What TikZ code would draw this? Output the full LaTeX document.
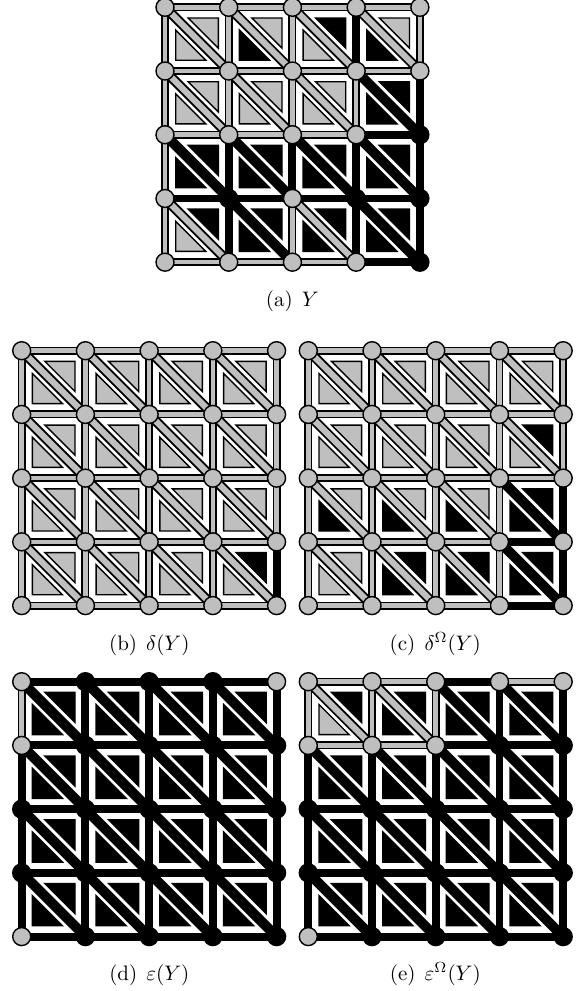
\documentclass[tikz,border=0pt]{standalone}
\usetikzlibrary{backgrounds}
\def\gridstep{63.72}
\definecolor{gridgrey}{gray}{0.75}
\tikzset{
  vertg/.style={circle,draw=black,fill=gridgrey,line width=1.4pt,inner sep=0pt,minimum size=18pt},
  vertb/.style={circle,draw=black,fill=black,line width=1.4pt,inner sep=0pt,minimum size=18pt},
  edgeg/.style={draw=black,line width=1.7pt,double=gridgrey,double distance=4.5pt},
  edgeb/.style={draw=black,line width=7.9pt},
  diagg/.style={draw=black,line width=1.9pt,double=gridgrey,double distance=6.2pt},
  diagb/.style={draw=black,line width=10pt},
  trig/.style={draw=black,fill=gridgrey,line width=1.4pt,miter limit=10},
  trib/.style={draw=black,fill=black,line width=1.4pt,miter limit=10},
  caplabel/.style={scale=2.1,transform shape,inner sep=0pt,anchor=base}
}
\newcommand{\drawpanel}[9]{%
  \foreach \rowdata [count=\r from 0] in {#4} {
    \foreach \kind [count=\c from 0] in \rowdata {
      \node[vert\kind] (#1-\r-\c) at ({#2+\c*\gridstep},{#3-\r*\gridstep}) {};
    }
  }
  \begin{scope}[on background layer]
    \foreach \rowdata [count=\r from 0] in {#5} {
      \foreach \kind [count=\c from 0] in \rowdata {
        \pgfmathtruncatemacro{\cn}{\c+1}
        \draw[edge\kind] (#1-\r-\c.center) -- (#1-\r-\cn.center);
      }
    }
    \foreach \rowdata [count=\r from 0] in {#6} {
      \foreach \kind [count=\c from 0] in \rowdata {
        \pgfmathtruncatemacro{\rn}{\r+1}
        \draw[edge\kind] (#1-\r-\c.center) -- (#1-\rn-\c.center);
      }
    }
    \foreach \rowdata [count=\r from 0] in {#7} {
      \foreach \kind [count=\c from 0] in \rowdata {
        \pgfmathtruncatemacro{\rn}{\r+1}
        \pgfmathtruncatemacro{\cn}{\c+1}
        \draw[diag\kind] (#1-\r-\c.center) -- (#1-\rn-\cn.center);
      }
    }
  \end{scope}
  \foreach \rowdata [count=\r from 0] in {#8} {
    \foreach \kind [count=\c from 0] in \rowdata {
      \begin{scope}[shift={({#2+\c*\gridstep},{#3-\r*\gridstep})}]
        \path[tri\kind] (23.2,-10.7) -- (53.3,-10.7) -- (53.3,-40.8) -- cycle;
      \end{scope}
    }
  }
  \foreach \rowdata [count=\r from 0] in {#9} {
    \foreach \kind [count=\c from 0] in \rowdata {
      \begin{scope}[shift={({#2+\c*\gridstep},{#3-\r*\gridstep})}]
        \path[tri\kind] (10.7,-22.8) -- (10.7,-52.9) -- (40.8,-52.9) -- cycle;
      \end{scope}
    }
  }
}
\begin{document}
\begin{tikzpicture}[x=1pt,y=1pt]
\useasboundingbox (0,0) rectangle (587,-991);
% panel a
\drawpanel{a}{165}{-7.3}
 {{g,g,g,g,g},{g,g,g,g,g},{g,g,g,g,b},{g,b,g,b,b},{g,g,g,g,b}}
 {{g,g,g,g},{g,g,g,g},{g,g,g,b},{b,b,b,b},{g,g,g,b}}
 {{g,g,g,b,g},{g,g,g,g,b},{g,b,b,b,b},{g,b,g,b,b}}
 {{g,g,g,g},{g,g,g,b},{b,b,b,b},{g,b,g,b}}
 {{g,g,b,g},{g,g,g,b},{b,b,b,b},{b,b,b,b}}
 {{g,b,g,b},{g,g,g,b},{b,b,b,b},{g,b,b,b}}
% panel b
\drawpanel{b}{21.7}{-350.7}
 {{g,g,g,g,g},{g,g,g,g,g},{g,g,g,g,g},{g,g,g,g,g},{g,g,g,g,g}}
 {{g,g,g,g},{g,g,g,g},{g,g,g,g},{g,g,g,g},{g,g,g,g}}
 {{g,g,g,g,g},{g,g,g,g,g},{g,g,g,g,g},{g,g,g,g,b}}
 {{g,g,g,g},{g,g,g,g},{g,g,g,g},{g,g,g,g}}
 {{g,g,g,g},{g,g,g,g},{g,g,g,g},{g,g,g,b}}
 {{g,g,g,g},{g,g,g,g},{g,g,g,g},{g,g,g,g}}
% panel c
\drawpanel{c}{308.3}{-350.7}
 {{g,g,g,g,g},{g,g,g,g,g},{g,g,g,g,g},{g,g,g,g,g},{g,g,g,g,g}}
 {{g,g,g,g},{g,g,g,g},{g,g,g,g},{g,g,g,b},{g,g,g,b}}
 {{g,g,g,g,g},{g,g,g,g,g},{g,g,g,g,b},{g,g,g,g,b}}
 {{g,g,g,g},{g,g,g,g},{g,g,g,b},{g,g,g,b}}
 {{g,g,g,g},{g,g,g,b},{g,g,g,b},{g,b,b,b}}
 {{g,g,g,g},{g,g,g,g},{b,b,b,b},{g,b,b,b}}
% panel d
\drawpanel{d}{21.7}{-681.7}
 {{g,b,b,b,g},{g,b,b,b,b},{b,b,b,b,b},{b,b,b,b,b},{g,b,b,b,b}}
 {{b,b,b,b},{b,b,b,b},{b,b,b,b},{b,b,b,b},{b,b,b,b}}
 {{g,b,b,b,b},{b,b,b,b,b},{b,b,b,b,b},{b,b,b,b,b}}
 {{b,b,b,b},{b,b,b,b},{b,b,b,b},{b,b,b,b}}
 {{b,b,b,b},{b,b,b,b},{b,b,b,b},{b,b,b,b}}
 {{b,b,b,b},{b,b,b,b},{b,b,b,b},{b,b,b,b}}
% panel e
\drawpanel{e}{308.3}{-681.7}
 {{g,g,g,g,g},{g,g,g,b,b},{b,b,b,b,b},{b,b,b,b,b},{g,b,b,b,b}}
 {{g,g,b,g},{g,g,b,b},{b,b,b,b},{b,b,b,b},{b,b,b,b}}
 {{g,g,g,b,b},{b,b,b,b,b},{b,b,b,b,b},{b,b,b,b,b}}
 {{g,g,b,b},{b,b,b,b},{b,b,b,b},{b,b,b,b}}
 {{b,b,b,b},{b,b,b,b},{b,b,b,b},{b,b,b,b}}
 {{g,b,b,b},{b,b,b,b},{b,b,b,b},{b,b,b,b}}
% captions
\node[caplabel] (capa) at (292.3,-306) {(a)\ \kern1pt$Y$};
\node[caplabel] (capb) at (149.3,-650) {(b)\ \kern1pt$\delta(Y)$};
\node[caplabel] (capc) at (435.3,-650) {(c)\ \kern1pt$\delta^{\Omega}(Y)$};
\node[caplabel] (capd) at (149.3,-980) {(d)\ \kern1pt$\varepsilon(Y)$};
\node[caplabel] (cape) at (435.3,-980) {(e)\ \kern1pt$\varepsilon^{\Omega}(Y)$};
\end{tikzpicture}
\end{document}
